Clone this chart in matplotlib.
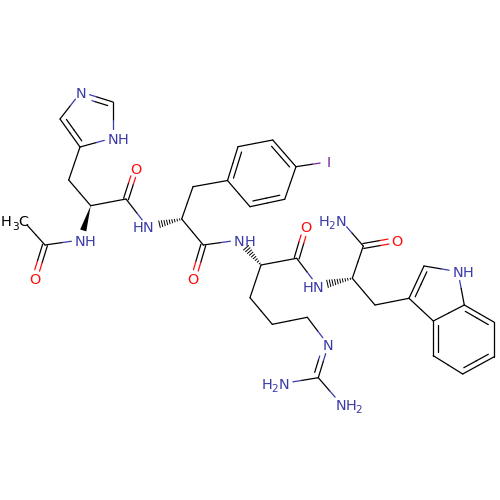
import numpy as np
import matplotlib
matplotlib.use("Agg")
import matplotlib.pyplot as plt

# atom positions, pixel coords (y down)
atom_x = [27, 45, 34.5, 80.3, 90.7, 68.7, 80, 60, 81, 113, 113, 126, 136, 147.7, 181.7, 193,
          227.5, 238, 272.7, 296, 284.7, 250, 329, 203.3, 193.3, 239.3, 261, 296.7, 306, 317.7,
          250, 272.3, 307.3, 328.3, 318.3, 284, 341, 352.3, 363.3, 397.3, 340.7, 375,
          409, 424, 458, 464.3, 433.3, 433.3, 462.7, 494.3, 494.3]
atom_y = [225, 245, 279, 240, 205.7, 180, 147, 119, 92, 102, 138, 199, 168, 227, 219, 186.7,
          180.5, 146.7, 140, 166.7, 199.3, 206.7, 161.7, 245, 279, 240, 265, 258.3, 227, 286,
          297.7, 324.3, 317.3, 345, 377.7, 383.3, 404, 278.3, 246, 240, 220, 305,
          298.3, 266, 271.7, 305, 321, 355.7, 374, 356.7, 322.3]
elements = ["C", "C", "O", "N", "C", "C", "C", "C", "N", "C", "N", "C", "O", "N", "C", "C",
            "C", "C", "C", "C", "C", "C", "I", "C", "O", "N", "C", "C", "O", "N",
            "C", "C", "C", "N", "C", "N", "N", "C", "C", "O", "N", "C",
            "C", "C", "N", "C", "C", "C", "C", "C", "C"]

single_bonds = [(0, 1), (1, 3), (4, 5), (5, 6), (6, 10), (9, 10), (7, 8), (4, 11), (11, 13),
                (14, 15), (15, 16), (14, 23), (23, 25), (26, 27), (27, 29), (26, 30), (30, 31),
                (31, 32), (32, 33), (34, 35), (34, 36), (37, 38), (38, 40), (37, 41), (41, 42),
                (43, 44), (44, 45), (45, 46), (46, 42), (17, 18), (19, 20), (21, 16),
                (19, 22), (47, 48), (49, 50)]
# centred double bonds (C=O)
centred_doubles = [(1, 2), (11, 12), (23, 24), (27, 28), (38, 39)]
# second line drawn towards the given point
side_doubles = [(6, 7, 88, 118), (8, 9, 88, 118), (16, 17, 262, 173), (18, 19, 262, 173),
                (20, 21, 262, 173), (42, 43, 445, 290), (46, 47, 464, 339),
                (48, 49, 464, 339), (45, 50, 464, 339), (33, 34, 300, 360)]
wedge_bonds = [(4, 3)]
hash_bonds = [(14, 13), (26, 25), (37, 29)]

labeled_o = [2, 12, 24, 28, 39]
labeled_n = [8, 33]
labeled_nh = [3, 10, 25, 44]
labeled_hn = [13, 29]
labeled_h2n = [35, 40]
labeled_nh2 = [36]

colors = {"C": "black", "N": "#3a3aa8", "O": "#ff0d0d", "I": "#7a1fa0"}

fig = plt.figure(figsize=(5, 5), dpi=100)
ax = fig.add_axes([0, 0, 1, 1])
ax.set_xlim(0, 500)
ax.set_ylim(500, 0)
ax.axis("off")

LW = 0.9
GAP = 9


def pos(i):
    return np.array([atom_x[i], atom_y[i]], dtype=float)


def trimmed(a, b):
    # cut the bond back where it meets a heteroatom label
    p, q = pos(a), pos(b)
    u = (q - p) / np.linalg.norm(q - p)
    if elements[a] != "C":
        p = p + u * GAP
    if elements[b] != "C":
        q = q - u * GAP
    return p, q


def half_line(p, q, a, b):
    # each half takes the colour of its own atom
    u = (q - p) / np.linalg.norm(q - p)
    m = p + u * np.dot((pos(a) + pos(b)) / 2 - p, u)
    ax.plot([p[0], m[0]], [p[1], m[1]], color=colors[elements[a]], lw=LW, solid_capstyle="round")
    ax.plot([m[0], q[0]], [m[1], q[1]], color=colors[elements[b]], lw=LW, solid_capstyle="round")


for a, b in single_bonds:
    p, q = trimmed(a, b)
    half_line(p, q, a, b)

for a, b in centred_doubles:
    p, q = trimmed(a, b)
    u = (q - p) / np.linalg.norm(q - p)
    n = np.array([-u[1], u[0]])
    half_line(p + n * 2.5, q + n * 2.5, a, b)
    half_line(p - n * 2.5, q - n * 2.5, a, b)

for a, b, cx, cy in side_doubles:
    p, q = trimmed(a, b)
    u = (q - p) / np.linalg.norm(q - p)
    n = np.array([-u[1], u[0]])
    if np.dot(np.array([cx, cy]) - (p + q) / 2, n) < 0:
        n = -n
    half_line(p, q, a, b)
    half_line(p + n * 5 + u * 4, q + n * 5 - u * 4, a, b)

for a, b in wedge_bonds:
    p, q = pos(a), pos(b)
    u = (q - p) / np.linalg.norm(q - p)
    n = np.array([-u[1], u[0]])
    q = q - u * 10
    ax.fill([p[0], q[0] + n[0] * 3.2, q[0] - n[0] * 3.2], [p[1], q[1] + n[1] * 3.2, q[1] - n[1] * 3.2],
            color="black", lw=0)

for a, b in hash_bonds:
    p, q = pos(a), pos(b)
    length = np.linalg.norm(q - p)
    u = (q - p) / length
    n = np.array([-u[1], u[0]])
    for t in np.arange(2, length - 10, 2.6):
        c = p + u * t
        w = 0.3 + t * 0.13
        ax.plot([c[0] - n[0] * w, c[0] + n[0] * w], [c[1] - n[1] * w, c[1] + n[1] * w], color="black", lw=0.7)

FS = 10.4
SUB = 7.6


def put(x, y, s, col, size=FS):
    ax.text(x, y, s, color=col, fontsize=size, ha="center", va="center_baseline", family="DejaVu Sans")


# labels
put(6, 221, "H", "black")
put(15.2, 226, "3", "black", SUB)
put(23.7, 221, "C", "black")
put(atom_x[22], atom_y[22], "I", colors["I"])
for i in labeled_o:
    put(atom_x[i], atom_y[i], "O", colors["O"])
for i in labeled_n:
    put(atom_x[i], atom_y[i], "N", colors["N"])
for i in labeled_nh:
    put(atom_x[i], atom_y[i], "N", colors["N"])
    put(atom_x[i] + 10.2, atom_y[i], "H", colors["N"])
for i in labeled_hn:
    put(atom_x[i], atom_y[i], "N", colors["N"])
    put(atom_x[i] - 10.2, atom_y[i], "H", colors["N"])
for i in labeled_h2n:
    put(atom_x[i], atom_y[i], "N", colors["N"])
    put(atom_x[i] - 9.5, atom_y[i] + 5, "2", colors["N"], SUB)
    put(atom_x[i] - 17.2, atom_y[i], "H", colors["N"])
for i in labeled_nh2:
    put(atom_x[i], atom_y[i], "N", colors["N"])
    put(atom_x[i] + 9.8, atom_y[i], "H", colors["N"])
    put(atom_x[i] + 17.2, atom_y[i] + 5, "2", colors["N"], SUB)

fig.savefig("out.png", dpi=100, facecolor="white")
